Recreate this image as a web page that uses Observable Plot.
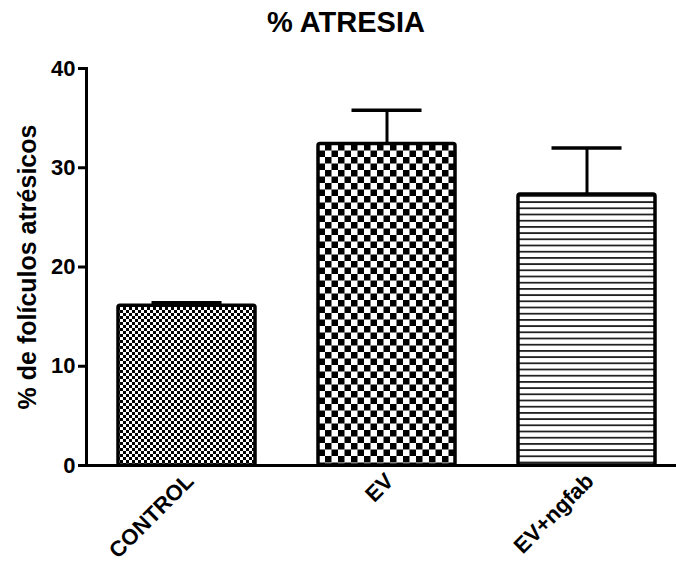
<!DOCTYPE html>
<html>
<head>
<meta charset="utf-8">
<script src="https://cdn.jsdelivr.net/npm/d3@7"></script>
<script src="https://cdn.jsdelivr.net/npm/@observablehq/plot@0.6"></script>
<style>
  html, body { margin: 0; padding: 0; background: #fff; }
  #chart { width: 676px; font-family: Arial, "Liberation Sans", sans-serif; }
  #title {
    height: 40px; line-height: 44px; font-size: 29px; font-weight: bold;
    text-align: center; padding-left: 16px; box-sizing: border-box; color: #000;
  }
  svg { display: block; }
</style>
</head>
<body>
<div id="chart">
  <div id="title">% ATRESIA</div>
</div>
<script>
// Groups, mean percentage of atretic follicles and standard error
const categories = ["CONTROL", "EV", "EV+ngfab"];
const means = [16.1, 32.4, 27.3];
const errors = [0.3, 3.4, 4.7];
const yTicks = [0, 10, 20, 30, 40];
const yLabel = "% de folículos atrésicos";

const data = categories.map((group, i) => ({group, mean: means[i], sem: errors[i]}));

// Hatch pattern used to fill each group's bar
const patternFor = {
  "CONTROL": "url(#pat-control)",
  "EV": "url(#pat-ev)",
  "EV+ngfab": "url(#pat-ngfab)"
};

const svg = Plot.plot({
  width: 676,
  height: 524,
  marginLeft: 86,
  marginRight: 0,
  marginTop: 28,
  marginBottom: 99,
  style: {fontFamily: 'Arial, "Liberation Sans", sans-serif', fontWeight: "bold", color: "#000", background: "#fff"},
  x: {domain: categories, range: [91, 681], paddingInner: 0.317, paddingOuter: 0.13, axis: null},
  y: {domain: [0, 40], axis: null},
  color: {type: "identity"},
  marks: [
    Plot.barY(data, {x: "group", y: "mean", fill: d => patternFor[d.group], stroke: "#000", strokeWidth: 3.5, rx: 2}),
    Plot.ruleX(data, {x: "group", y1: "mean", y2: d => d.mean + d.sem, stroke: "#000", strokeWidth: 3}),
    Plot.tickY(data, {x: "group", y: d => d.mean + d.sem, stroke: "#000", strokeWidth: 3.5, insetLeft: 33.5, insetRight: 33.5}),
    Plot.ruleY([0], {stroke: "#000", strokeWidth: 3}),
    Plot.frame({anchor: "left", stroke: "#000", strokeWidth: 3}),
    Plot.axisY(yTicks, {label: null, tickSize: 8, tickPadding: 3, fontSize: 22, fontWeight: "bold", strokeWidth: 3, tickFormat: d => d}),
    Plot.text(categories, {x: d => d, frameAnchor: "bottom", dx: 3, dy: 12, rotate: -45, textAnchor: "end", lineAnchor: "middle", fontSize: 22, fontWeight: "bold", fill: "#000"}),
    Plot.text([yLabel], {frameAnchor: "left", dx: -59, rotate: -90, textAnchor: "middle", lineAnchor: "middle", fontSize: 25, fontWeight: "bold", fill: "#000"})
  ]
});

// Pattern definitions: fine checker, coarse checker, horizontal stripes
const defs = d3.select(svg).insert("defs", ":first-child");

const fine = defs.append("pattern").attr("id", "pat-control")
  .attr("patternUnits", "userSpaceOnUse").attr("width", 6).attr("height", 6);
fine.append("rect").attr("width", 6).attr("height", 6).attr("fill", "#fff");
fine.append("rect").attr("width", 3).attr("height", 3).attr("fill", "#000");
fine.append("rect").attr("x", 3).attr("y", 3).attr("width", 3).attr("height", 3).attr("fill", "#000");

const coarse = defs.append("pattern").attr("id", "pat-ev")
  .attr("patternUnits", "userSpaceOnUse").attr("width", 13).attr("height", 13);
coarse.append("rect").attr("width", 13).attr("height", 13).attr("fill", "#fff");
coarse.append("rect").attr("width", 6.5).attr("height", 6.5).attr("fill", "#000");
coarse.append("rect").attr("x", 6.5).attr("y", 6.5).attr("width", 6.5).attr("height", 6.5).attr("fill", "#000");

const stripes = defs.append("pattern").attr("id", "pat-ngfab")
  .attr("patternUnits", "userSpaceOnUse").attr("width", 10).attr("height", 6.2);
stripes.append("rect").attr("width", 10).attr("height", 6.2).attr("fill", "#fff");
stripes.append("rect").attr("y", 0).attr("width", 10).attr("height", 1.8).attr("fill", "#222");

document.getElementById("chart").appendChild(svg);
</script>
</body>
</html>
